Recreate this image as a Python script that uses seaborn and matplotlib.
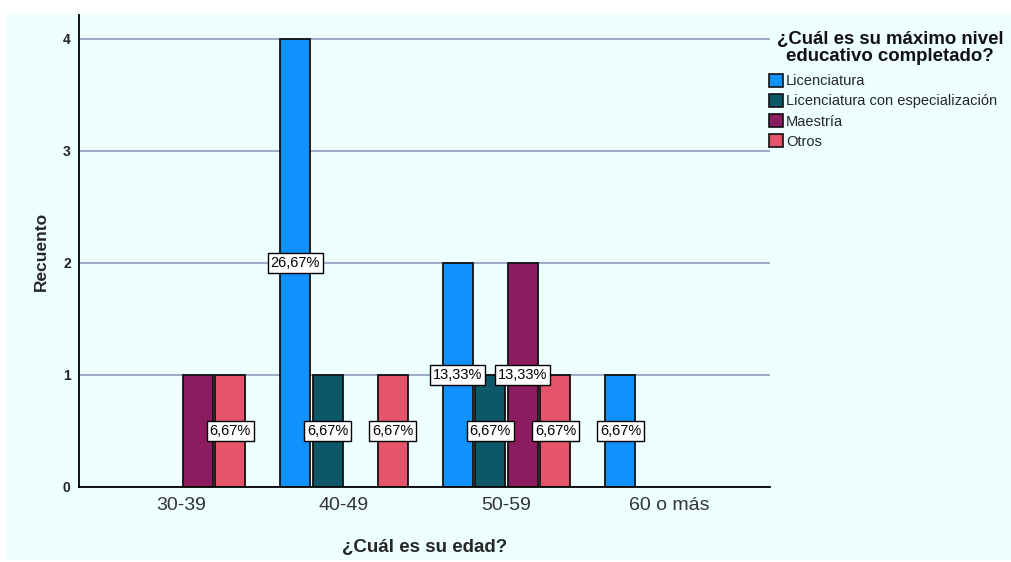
import matplotlib
matplotlib.use("Agg")
import matplotlib.pyplot as plt
import matplotlib.patches as mpatches
import seaborn as sns
import pandas as pd

# data
edades = ['30-39', '40-49', '50-59', '60 o más']
niveles = ['Licenciatura', 'Licenciatura con especialización', 'Maestría', 'Otros']
licenciatura = [0, 4, 2, 1]
especializacion = [0, 1, 1, 0]
maestria = [1, 0, 2, 0]
otros = [1, 1, 1, 0]
# labels that the original chart does not show (edad, nivel)
sin_etiqueta = [('30-39', 'Maestría')]

colores = ['#1191FB', '#0C5868', '#8D1B5F', '#E5546B']
fondo = '#EDFFFF'

rows = []
for nivel, vals in zip(niveles, [licenciatura, especializacion, maestria, otros]):
    for edad, v in zip(edades, vals):
        rows.append({'edad': edad, 'nivel': nivel, 'recuento': v})
df = pd.DataFrame(rows)
total = df['recuento'].sum()

sns.set_style('white')
plt.rcParams['font.family'] = ['Liberation Sans', 'DejaVu Sans']

fig = plt.figure(figsize=(10.12, 5.62), dpi=100, facecolor='white')
fig.patches.append(mpatches.Rectangle((7 / 1012, 2 / 562), 1, 1 - 15 / 562,
                                      transform=fig.transFigure, facecolor=fondo,
                                      edgecolor='none', zorder=-10))
ax = fig.add_axes([79 / 1012, 75 / 562, 691 / 1012, 472 / 562])
ax.set_facecolor(fondo)

sns.barplot(data=df, x='edad', y='recuento', hue='nivel', order=edades,
            hue_order=niveles, palette=colores, saturation=1, width=0.8, gap=0.08,
            edgecolor='#111111', linewidth=1.3, legend=False, ax=ax)

# hide empty bars and put the percentage boxes
for i, cont in enumerate(ax.containers):
    for j, bar in enumerate(cont):
        h = bar.get_height()
        if h == 0:
            bar.set_visible(False)
            continue
        if (edades[j], niveles[i]) in sin_etiqueta:
            continue
        pct = f"{100 * h / total:.2f}%".replace('.', ',')
        ax.text(bar.get_x() + bar.get_width() / 2, h / 2, pct, ha='center', va='center',
                fontsize=10.5, color='black', zorder=5,
                bbox=dict(boxstyle='square,pad=0.2', facecolor='white',
                          edgecolor='black', linewidth=1))

ax.set_xlim(-0.63, 3.62)
ax.set_ylim(0, 4.21)
ax.set_yticks([0, 1, 2, 3, 4])
ax.yaxis.grid(True, color='#9FACC8', linewidth=1.5)
ax.set_axisbelow(True)
for s in ['top', 'right']:
    ax.spines[s].set_visible(False)
for s in ['left', 'bottom']:
    ax.spines[s].set_color('black')
    ax.spines[s].set_linewidth(1.3)
ax.tick_params(axis='y', length=0, pad=6, labelsize=10, labelcolor='#222222')
for t in ax.get_yticklabels():
    t.set_fontweight('bold')
ax.tick_params(axis='x', length=0, pad=7, labelsize=14, labelcolor='#333333')

ax.set_xlabel('¿Cuál es su edad?', fontsize=13.5, fontweight='bold', labelpad=18)
ax.set_ylabel('Recuento', fontsize=12.5, fontweight='bold', labelpad=10)

fig.text(890 / 1012, 1 - 48 / 562, '¿Cuál es su máximo nivel\neducativo completado?',
         ha='center', va='center', fontsize=13.4, fontweight='bold',
         color='#111111', linespacing=1.0)
handles = [mpatches.Patch(facecolor=c, edgecolor='#111111', linewidth=1.2) for c in colores]
leg = fig.legend(handles, niveles, loc='upper left', bbox_to_anchor=(769 / 1012, 1 - 74 / 562),
                 frameon=False, fontsize=10.5,
                 handlelength=0.95, handleheight=0.95, handletextpad=0.2,
                 labelspacing=0.4, borderaxespad=0, borderpad=0)

fig.savefig('out.png', dpi=100, facecolor='white')
